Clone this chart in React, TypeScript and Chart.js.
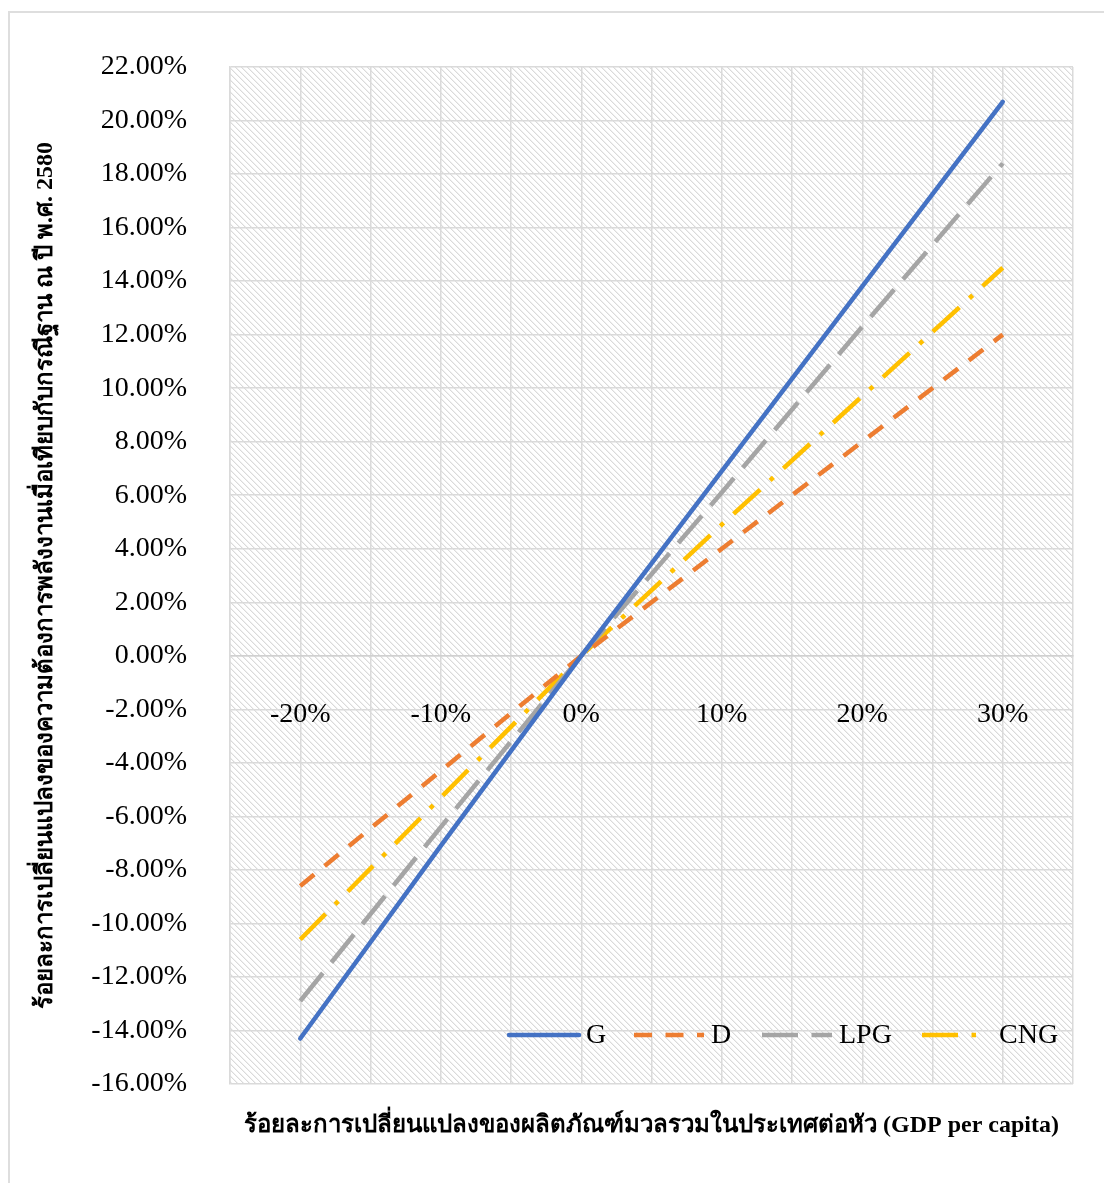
import React, { useEffect, useRef } from "react";
import { Chart, registerables } from "chart.js";

Chart.register(...registerables);

const xValues = [-20, -10, 0, 10, 20, 30];
const seriesNames = ["G", "D", "LPG", "CNG"];
const gValues = [-14.3, -7.1, 0, 6.9, 13.8, 20.7];
const dValues = [-8.6, -4.3, 0, 4.0, 8.0, 12.0];
const lpgValues = [-12.9, -6.4, 0, 6.1, 12.3, 18.4];
const cngValues = [-10.6, -5.3, 0, 4.9, 9.7, 14.5];
const yTitle = "ร้อยละการเปลี่ยนแปลงของความต้องการพลังงานเมื่อเทียบกับกรณีฐาน ณ ปี พ.ศ. 2580";
const xTitle = "ร้อยละการเปลี่ยนแปลงของผลิตภัณฑ์มวลรวมในประเทศต่อหัว (GDP per capita)";

const SERIF = '"Liberation Serif", "Times New Roman", serif';
const W = 1104;
const H = 1183;

const hatchPlugin = {
  id: "hatch",
  beforeDraw(chart: any) {
    const { ctx, chartArea } = chart;
    const tile = document.createElement("canvas");
    tile.width = 6;
    tile.height = 6;
    const t = tile.getContext("2d")!;
    t.fillStyle = "#ffffff";
    t.fillRect(0, 0, 6, 6);
    for (let i = 0; i < 6; i++) {
      t.fillStyle = "#dadada";
      t.fillRect(i, i, 1, 1);
      t.fillStyle = "#f0f0f0";
      t.fillRect((i + 1) % 6, i, 1, 1);
    }
    const pat = ctx.createPattern(tile, "repeat");
    ctx.save();
    ctx.fillStyle = pat;
    ctx.fillRect(chartArea.left, chartArea.top, chartArea.right - chartArea.left, chartArea.bottom - chartArea.top);
    ctx.restore();
  },
};

const legendStarts = [509, 634, 762, 922];
const legendLengths = [70, 70, 70, 54];
const legendPlugin = {
  id: "customLegend",
  afterDraw(chart: any) {
    const { ctx } = chart;
    const y = 1035;
    ctx.save();
    chart.data.datasets.forEach((ds: any, i: number) => {
      const x0 = legendStarts[i];
      ctx.beginPath();
      ctx.setLineDash(ds.borderDash || []);
      ctx.lineCap = ds.borderCapStyle || "butt";
      ctx.strokeStyle = ds.borderColor;
      ctx.lineWidth = ds.borderWidth;
      ctx.moveTo(x0, y);
      ctx.lineTo(x0 + legendLengths[i], y);
      ctx.stroke();
      ctx.setLineDash([]);
      ctx.fillStyle = "#000000";
      ctx.font = `28px ${SERIF}`;
      ctx.textBaseline = "middle";
      ctx.textAlign = "left";
      ctx.fillText(ds.label, x0 + 77, y + 1);
    });
    ctx.restore();
  },
};

export default function App() {
  const ref = useRef<HTMLCanvasElement>(null);
  useEffect(() => {
    const toPts = (vals: number[]) => xValues.map((x, i) => ({ x, y: vals[i] }));
    const chart = new Chart(ref.current!, {
      type: "line",
      data: {
        datasets: [
          { label: seriesNames[0], data: toPts(gValues), borderColor: "#4472C4", borderWidth: 4.5, borderCapStyle: "round", pointRadius: 0 },
          { label: seriesNames[1], data: toPts(dValues), borderColor: "#ED7D31", borderWidth: 4.5, borderDash: [18, 13.5], pointRadius: 0 },
          { label: seriesNames[2], data: toPts(lpgValues), borderColor: "#A5A5A5", borderWidth: 4.5, borderDash: [36, 13.5], pointRadius: 0 },
          { label: seriesNames[3], data: toPts(cngValues), borderColor: "#FFC000", borderWidth: 4.5, borderDash: [36, 13.5, 4.5, 13.5], pointRadius: 0 },
        ] as any,
      },
      options: {
        responsive: false,
        animation: false,
        devicePixelRatio: 1,
        layout: { padding: { left: 0, top: 67, right: 31, bottom: 0 } },
        plugins: {
          legend: { display: false },
          tooltip: { enabled: false },
          title: {
            display: true,
            position: "bottom",
            fullSize: false,
            text: xTitle,
            color: "#000000",
            font: { family: SERIF, size: 24, weight: "bold" },
            padding: { top: 27.6, bottom: 42.6 },
          },
        },
        scales: {
          x: {
            type: "linear",
            position: { y: 0 } as any,
            min: -25,
            max: 35,
            afterFit: (s: any) => {
              s.paddingLeft = 0;
              s.paddingRight = 0;
            },
            grid: { color: "#dadada", lineWidth: 1.5, drawTicks: false },
            border: { color: "#d0d0d0", width: 1.5 },
            ticks: {
              stepSize: 5,
              padding: 42,
              color: "#000000",
              font: { family: SERIF, size: 28 },
              maxRotation: 0,
              autoSkip: false,
              callback: (v: any) => (Math.round(v) % 10 === 0 ? `${Math.round(v)}%` : ""),
            },
          },
          y: {
            type: "linear",
            min: -16,
            max: 22,
            afterFit: (s: any) => {
              s.width = 230;
            },
            grid: { color: "#dadada", lineWidth: 1.5, drawTicks: false },
            border: { color: "#dadada", width: 1.5 },
            ticks: {
              stepSize: 2,
              padding: 43,
              color: "#000000",
              font: { family: SERIF, size: 28 },
              callback: (v: any) => `${Number(v).toFixed(2)}%`,
            },
            title: {
              display: true,
              text: yTitle,
              color: "#000000",
              font: { family: SERIF, size: 24, weight: "bold" },
              padding: { top: 31.6, bottom: 0 },
            },
          },
        },
      } as any,
      plugins: [hatchPlugin, legendPlugin],
    });
    return () => chart.destroy();
  }, []);
  return (
    <div>
      <div
        style={{
          position: "absolute",
          left: 8,
          top: 11,
          width: W - 8,
          height: H - 11,
          borderLeft: "2px solid #dedede",
          borderTop: "2px solid #dedede",
          boxSizing: "border-box",
        }}
      />
      <canvas ref={ref} width={W} height={H} style={{ position: "absolute", left: 0, top: 0, width: W, height: H }} />
    </div>
  );
}
